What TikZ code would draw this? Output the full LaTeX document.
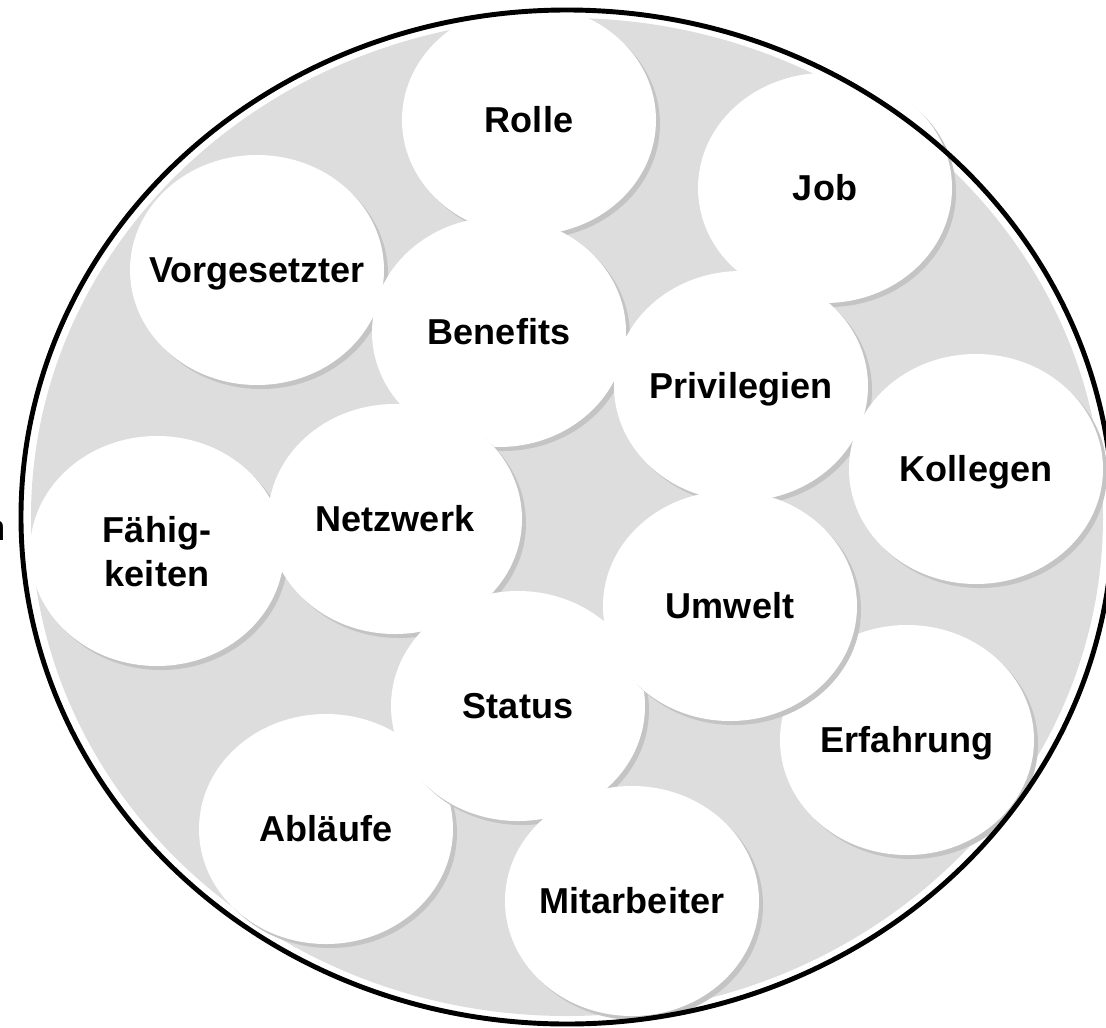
\documentclass[tikz,border=0pt]{standalone}
\usepackage{fontspec}
\setmainfont{Liberation Sans}
\usetikzlibrary{shapes.geometric}
\usetikzlibrary{shadows}
\definecolor{ringgray}{RGB}{221,221,221}
\definecolor{shadowgray}{RGB}{196,196,196}

\begin{document}
\begin{tikzpicture}[thick,
    blob/.style={ellipse,fill=white,inner sep=0pt,minimum width=5.08cm,minimum height=4.6cm,
      drop shadow={shadow xshift=0.08cm,shadow yshift=-0.08cm,fill=shadowgray,opacity=1}},
    topic text/.style={font=\fontsize{20.5}{25}\selectfont\bfseries,align=center,inner sep=0pt,
      text height=14.7pt,text depth=0pt},
    topic node/.style={blob,label={[topic text]center:#1}}]
   \useasboundingbox (-11.34,-10.2) rectangle (10.78,10.34);
   % gray disc with a white rim
   \fill[ringgray] (0,0) ellipse [x radius=10.72cm,y radius=9.98cm];
   \node[anchor=base east,font=\fontsize{20.5}{25}\selectfont] (cut) at (-11.10,-0.46) {n};
   \begin{scope}
      \node[topic node=Rolle] (rolle) at (-0.76,7.94) {};
      \node[topic node=Job] (job) at (5.16,6.58) {};
      \node[topic node=Vorgesetzter] (vorg) at (-6.20,4.94) {};
      \node[topic node=Benefits] (benefits) at (-1.36,3.70) {};
      \node[topic node=Privilegien] (priv) at (3.48,2.62) {};
      \node[topic node=Kollegen] (kollegen) at (8.18,0.96) {};
      \node[blob,label={[topic text,text height=40pt]center:Fähig-\\keiten}] (faehig) at (-8.20,-0.68) {};
      \node[topic node=Netzwerk] (netz) at (-3.44,-0.04) {};
      \node[topic node=Erfahrung] (erfahrung) at (6.80,-4.46) {};
      \node[topic node=Abläufe] (ablauf) at (-4.82,-6.24) {};
      \node[topic node=Status] (status) at (-0.98,-3.78) {};
      \node[topic node=Umwelt] (umwelt) at (3.26,-1.78) {};
      \node[topic node=Mitarbeiter] (mitarb) at (1.30,-7.68) {};
   \end{scope}
   % outer border
   \draw[line width=2.8pt] (0,0) ellipse [x radius=10.92cm,y radius=10.14cm];
\end{tikzpicture}
\end{document}
